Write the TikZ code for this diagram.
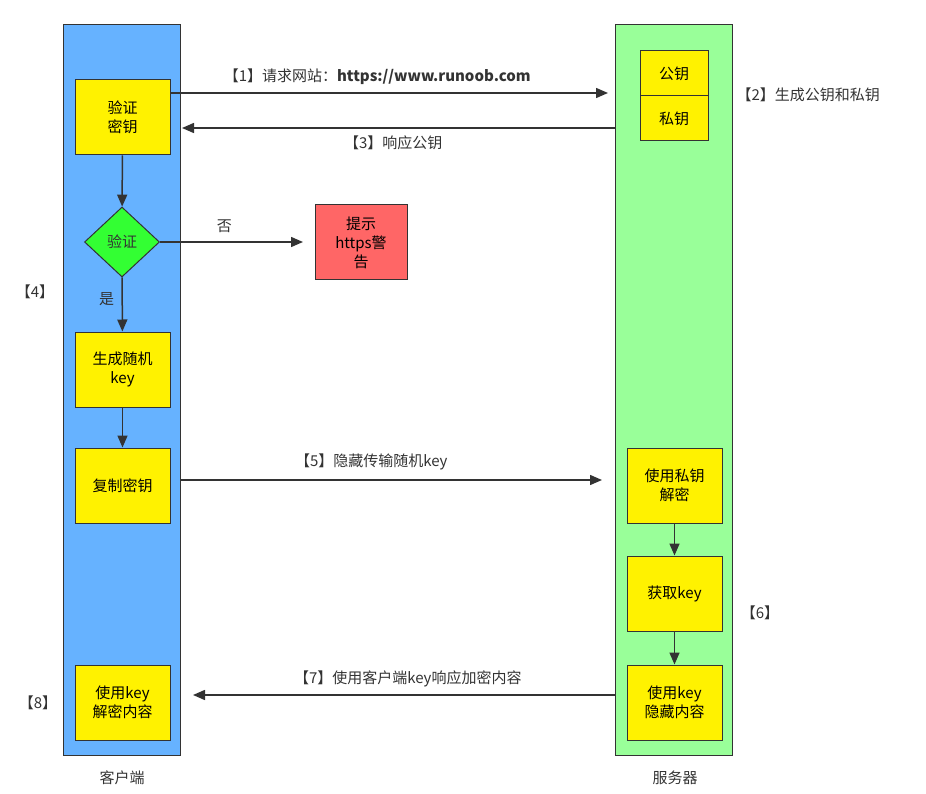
\documentclass[tikz,border=0pt]{standalone}
\usepackage{fontspec}
\setmainfont{Noto Sans CJK SC}
\usetikzlibrary{positioning, shapes.geometric, arrows.meta}
\definecolor{cblue}{HTML}{66B2FF}
\definecolor{sgreen}{HTML}{99FF99}
\definecolor{dgreen}{HTML}{33FF33}
\definecolor{hred}{HTML}{FF6666}
\definecolor{ink}{HTML}{333333}
\tikzset{
  box/.style={draw=ink, line width=1pt, fill=yellow, minimum width=95pt, minimum height=75pt, align=center, font=\fontsize{15}{19}\selectfont},
  lab/.style={font=\fontsize{15}{19}\selectfont, text=ink},
  flow/.style={->, >={Triangle[length=12pt,width=10pt]}, draw=ink, line width=1.5pt},
}
\begin{document}
\begin{tikzpicture}[x=1pt, y=-1pt]
  \useasboundingbox (0,0) rectangle (926,794);
  % columns
  \node[draw=ink, line width=1pt, fill=cblue, minimum width=117pt, minimum height=730pt, inner sep=0pt] (client) at (121.5,390) {};
  \node[draw=ink, line width=1pt, fill=sgreen, minimum width=117pt, minimum height=730pt, inner sep=0pt] (server) at (673.5,390) {};
  \node[lab] (clientlab) at (122,778) {客户端};
  \node[lab] (serverlab) at (675,778) {服务器};

  % client side
  \node[box] (verkey) at (122.5,117.5) {验证\\密钥};
  \node[draw=ink, line width=1pt, fill=dgreen, diamond, aspect=1.07, minimum width=75pt, minimum height=70pt, inner sep=0pt, lab] (check) at (122,242) {验证};
  \node[box, fill=hred, minimum width=92pt] (warn) at (361,242.5) {提示\\https警\\告};
  \node[box] (genkey) at (122.5,369.5) {生成随机\\key};
  \node[box] (copykey) at (122.5,485.5) {复制密钥};
  \node[box] (decrypt) at (122.5,702.5) {使用key\\解密内容};

  % server side
  \node[box, minimum width=68pt, minimum height=45pt] (pub) at (674,73.5) {公钥};
  \node[box, minimum width=68pt, minimum height=45pt] (priv) at (674,118.5) {私钥};
  \node[box] (sdec) at (674.5,485.5) {使用私钥\\解密};
  \node[box] (getkey) at (674.5,593.5) {获取key};
  \node[box] (hide) at (674.5,702.5) {使用key\\隐藏内容};

  % step labels
  \node[lab, anchor=west] (s2) at (733,95) {【2】生成公钥和私钥};
  \node[lab] (s4) at (35,292) {【4】};
  \node[lab] (s6) at (760,613) {【6】};
  \node[lab] (s8) at (38,703) {【8】};

  % connectors
  \coordinate (a1) at (608,93);
  \draw[flow] (verkey.east |- a1) -- node[lab, above=4pt, xshift=-12pt] {【1】请求网站：\textbf{https://www.runoob.com}} (a1);
  \coordinate (a3) at (182,128);
  \draw[flow] (server.west |- a3) -- node[lab, below=4pt, xshift=-5pt] {【3】响应公钥} (a3);
  \draw[flow] (verkey) -- (check);
  \coordinate (a5) at (303,242);
  \draw[flow] (check) -- node[lab, above=5pt, pos=0.45] {否} (a5);
  \draw[flow] (check) -- node[lab, left=4pt, pos=0.4] {是} (genkey);
  \draw[flow] (genkey) -- (copykey);
  \coordinate (a7) at (602,480);
  \draw[flow] (client.east |- a7) -- node[lab, above=6pt, xshift=-20pt] {【5】隐藏传输随机key} (a7);
  \draw[flow] (sdec) -- (getkey);
  \draw[flow] (getkey) -- (hide);
  \coordinate (a9) at (193,695);
  \draw[flow] (server.west |- a9) -- node[lab, above=4pt, xshift=4pt] {【7】使用客户端key响应加密内容} (a9);
\end{tikzpicture}
\end{document}
